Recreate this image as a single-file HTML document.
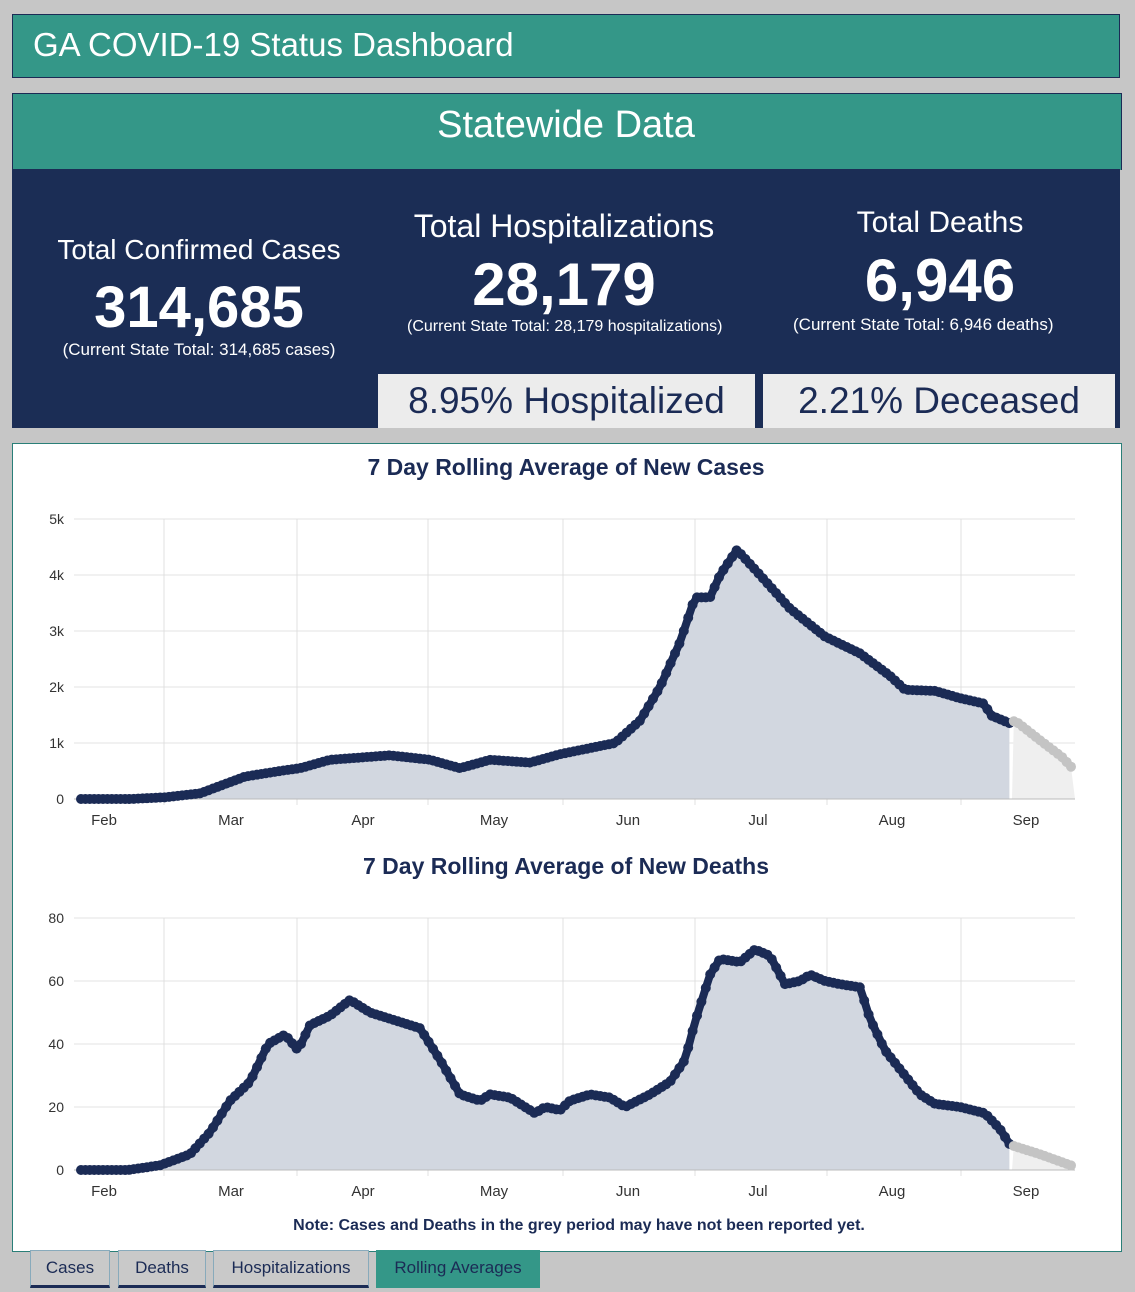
<!DOCTYPE html>
<html><head><meta charset="utf-8"><style>
body{margin:0;width:1135px;height:1292px;background:#c6c6c6;font-family:"Liberation Sans",sans-serif;position:relative;overflow:hidden}
.a{position:absolute}
.c{position:absolute;text-align:center;color:#fff;white-space:nowrap}
.tab{position:absolute;top:1250px;height:34px;border:1px solid #8ab;border-bottom:3px solid #1b2b55;background:#c9c9c9;color:#1b2b55;font-size:17px;line-height:34px;text-align:center;box-sizing:content-box}
</style></head><body>
<div class="a" style="left:12px;top:14px;width:1106px;height:62px;background:#349788;border:1px solid #1b2b55"></div>
<div class="a" style="left:33px;top:26px;color:#fff;font-size:33px">GA COVID-19 Status Dashboard</div>
<div class="a" style="left:12px;top:93px;width:1108px;height:76px;background:#349788;border:1px solid #1b2b55;border-bottom:none"></div>
<div class="c" style="left:12px;width:1108px;top:104px;font-size:38px">Statewide Data</div>
<div class="a" style="left:12px;top:169px;width:1108px;height:259px;background:#1b2d55"></div>
<div class="c" style="left:0;width:398px;top:234px;font-size:28px">Total Confirmed Cases</div>
<div class="c" style="left:0;width:398px;top:274px;font-size:58px;font-weight:bold">314,685</div>
<div class="c" style="left:0;width:398px;top:340px;font-size:17px">(Current State Total: 314,685 cases)</div>
<div class="c" style="left:364px;width:400px;top:208px;font-size:32px">Total Hospitalizations</div>
<div class="c" style="left:364px;width:400px;top:250px;font-size:60px;font-weight:bold">28,179</div>
<div class="a" style="left:407px;width:320px;top:318px;font-size:16px;color:#fff;white-space:nowrap;overflow:hidden">(Current State Total: 28,179 hospitalizations)</div>
<div class="c" style="left:740px;width:400px;top:206px;font-size:30px">Total Deaths</div>
<div class="c" style="left:740px;width:400px;top:246px;font-size:60px;font-weight:bold">6,946</div>
<div class="a" style="left:793px;width:294px;top:315px;font-size:17px;color:#fff;white-space:nowrap;overflow:hidden">(Current State Total: 6,946 deaths)</div>
<div class="a" style="left:378px;top:374px;width:377px;height:54px;background:#ececec;color:#1b2b55;font-size:37px;line-height:54px;text-align:center">8.95% Hospitalized</div>
<div class="a" style="left:763px;top:374px;width:352px;height:54px;background:#ececec;color:#1b2b55;font-size:37px;line-height:54px;text-align:center">2.21% Deceased</div>
<div class="a" style="left:12px;top:443px;width:1108px;height:807px;background:#fff;border:1px solid #2a7f78"></div>
<svg class="a" style="left:0;top:0" width="1135" height="1292" id="s"></svg>
<div class="tab" style="left:30px;width:78px">Cases</div>
<div class="tab" style="left:118px;width:86px">Deaths</div>
<div class="tab" style="left:213px;width:154px">Hospitalizations</div>
<div class="tab" style="left:376px;width:162px;background:#349788;border-color:#349788">Rolling Averages</div>
<script>
const s=document.getElementById('s');let h='';
const F='font-family="Liberation Sans,sans-serif"';
function chart(top,bot,max,ticks,labels,pts,title,ty){
 const Y=v=>bot-(bot-top)*v/max;
 h+=`<text x="566" y="${ty}" text-anchor="middle" font-size="23" font-weight="bold" fill="#1b2b55" ${F}>${title}</text>`;
 ticks.forEach((t,i)=>{const y=Y(t);h+=`<line x1="74" x2="1075" y1="${y}" y2="${y}" stroke="#e3e3e3"/><text x="64" y="${y+5}" text-anchor="end" font-size="14" fill="#333" ${F}>${labels[i]}</text>`});
 [164,297,428,563,695,827,961].forEach(x=>h+=`<line x1="${x}" x2="${x}" y1="${top}" y2="${bot+6}" stroke="#e0e0e0"/>`);
 [["Feb",104],["Mar",231],["Apr",363],["May",494],["Jun",628],["Jul",758],["Aug",892],["Sep",1026]].forEach(m=>h+=`<text x="${m[1]}" y="${bot+26}" text-anchor="middle" font-size="15" fill="#333" ${F}>${m[0]}</text>`);
 function interp(x){for(let i=0;i<pts.length-1;i++){const a=pts[i],b=pts[i+1];if(x>=a[0]&&x<=b[0])return a[1]+(b[1]-a[1])*(x-a[0])/(b[0]-a[0]);}return pts[pts.length-1][1];}
 let dk=[],gr=[];for(let x=81;x<=1075;x+=4.4){(x<=1010?dk:gr).push([x,Y(interp(x))]);}
 const poly=a=>a.map(p=>p[0].toFixed(1)+','+p[1].toFixed(1)).join(' ');
 h+=`<polygon points="81,${bot} ${poly(dk)} ${dk[dk.length-1][0]},${bot}" fill="#d2d7e0"/>`;
 h+=`<polygon points="1012,${bot} ${poly(gr)} 1075,${bot}" fill="#efefef"/>`;
 h+=`<line x1="74" x2="1075" y1="${bot}" y2="${bot}" stroke="#bbb"/>`;
 h+=`<polyline points="${poly(dk)}" fill="none" stroke="#1b2b55" stroke-width="8" stroke-linejoin="round" stroke-linecap="round"/>`;
 h+=`<polyline points="${poly(gr)}" fill="none" stroke="#c4c4c4" stroke-width="8" stroke-linejoin="round" stroke-linecap="round"/>`;
 dk.forEach(p=>h+=`<circle cx="${p[0]}" cy="${p[1]}" r="5" fill="#1b2b55"/>`);
 gr.forEach(p=>h+=`<circle cx="${p[0]}" cy="${p[1]}" r="5" fill="#c4c4c4"/>`);
}
chart(519,799,5,[0,1,2,3,4,5],["0","1k","2k","3k","4k","5k"],
[[81,0],[130,0],[165,0.03],[200,0.1],[245,0.4],[280,0.5],[300,0.55],[330,0.7],[390,0.78],[430,0.7],[460,0.55],[490,0.7],[530,0.65],[560,0.8],[615,1.0],[640,1.4],[660,2.0],[680,2.8],[695,3.6],[710,3.6],[720,4.0],[737,4.45],[760,4.0],[790,3.4],[825,2.9],[860,2.6],[890,2.2],[905,1.95],[935,1.93],[960,1.8],[985,1.7],[990,1.5],[1010,1.35],[1015,1.4],[1040,1.05],[1062,0.75],[1075,0.5]],
"7 Day Rolling Average of New Cases",475);
chart(918,1170,80,[0,20,40,60,80],["0","20","40","60","80"],
[[81,0],[128,0],[160,1.5],[190,5],[210,12],[230,22],[250,28],[268,40],[285,43],[298,38],[310,46],[330,49],[350,54],[370,50],[390,48],[420,45],[440,35],[460,24],[480,22],[490,24],[510,23],[525,20],[535,18],[545,20],[560,19],[570,22],[590,24],[610,23],[625,20],[650,24],[670,28],[685,35],[695,47],[710,62],[720,67],[740,66],[755,70],[770,68],[785,59],[800,60],[810,62],[825,60],[840,59],[860,58],[870,48],[885,38],[900,32],[920,24],[935,21],[960,20],[985,18],[1000,13],[1010,8],[1040,5],[1075,1]],
"7 Day Rolling Average of New Deaths",874);
h+=`<text x="579" y="1230" text-anchor="middle" font-size="16" font-weight="bold" fill="#1b2b55" ${F}>Note: Cases and Deaths in the grey period may have not been reported yet.</text>`;
s.innerHTML=h;
</script>
</body></html>
